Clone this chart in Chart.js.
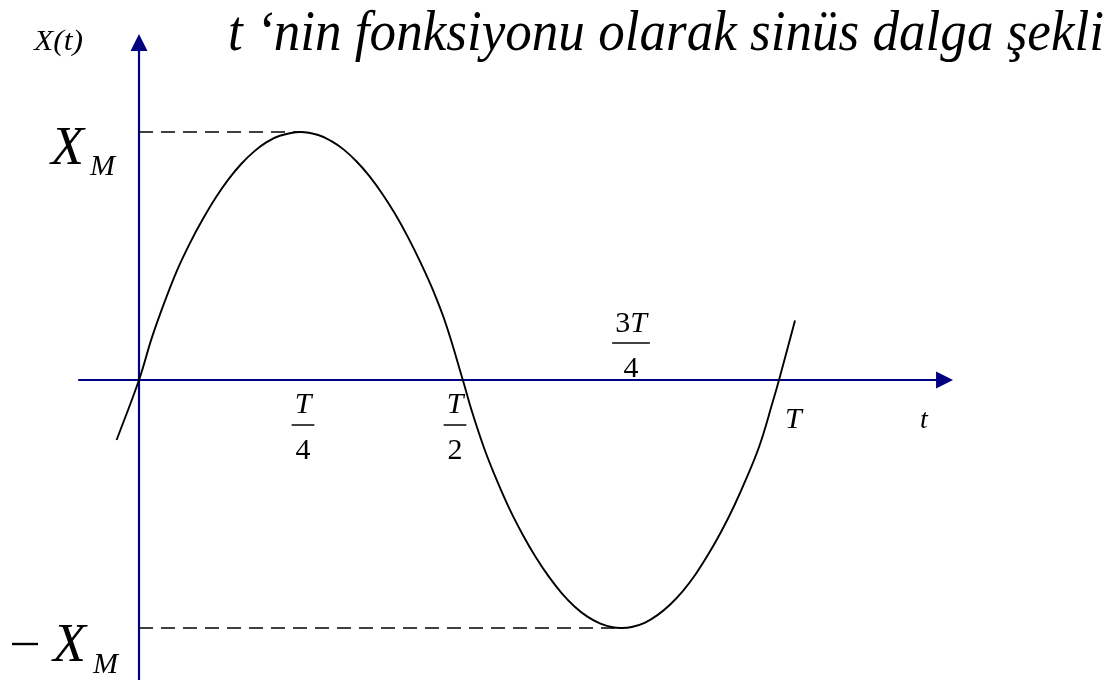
<!DOCTYPE html>
<html lang="tr">
<head>
<meta charset="utf-8">
<title>Sinüs dalga şekli</title>
<script src="https://cdn.jsdelivr.net/npm/chart.js@4/dist/chart.umd.min.js"></script>
<style>
  html, body { margin: 0; padding: 0; background: #ffffff; }
  #wrap { position: relative; width: 1112px; height: 685px; }
</style>
</head>
<body>
<div id="wrap"><canvas id="chart"></canvas></div>
<script>
// Time, in units of one period T
const tValues = [-0.035, 0, 0.02, 0.04, 0.06, 0.08, 0.10, 0.12, 0.14, 0.16, 0.18, 0.20, 0.22, 0.252,
                 0.28, 0.30, 0.32, 0.34, 0.36, 0.38, 0.40, 0.42, 0.44, 0.46, 0.48, 0.506,
                 0.52, 0.54, 0.56, 0.58, 0.60, 0.62, 0.64, 0.66, 0.68, 0.70, 0.72, 0.74, 0.754,
                 0.77, 0.79, 0.81, 0.83, 0.85, 0.87, 0.89, 0.91, 0.93, 0.95, 0.97, 0.99, 1.0, 1.025];
// Signal X(t), in units of the amplitude X_M
const xValues = [-0.242, 0, 0.17, 0.315, 0.445, 0.554, 0.65, 0.736, 0.81, 0.872, 0.922, 0.96, 0.985, 1.0,
                 0.988, 0.964, 0.929, 0.881, 0.822, 0.751, 0.67, 0.577, 0.473, 0.358, 0.222, 0,
                 -0.125, -0.28, -0.41, -0.526, -0.626, -0.715, -0.792, -0.858, -0.912, -0.953, -0.981, -0.997, -1.0,
                 -0.996, -0.979, -0.948, -0.905, -0.85, -0.782, -0.701, -0.61, -0.507, -0.391, -0.261, -0.09, 0, 0.24];

// Fraction tick labels on the time axis: [time, numerator, denominator]
const fractionTicks = [[0.25, 'T', '4'], [0.5, 'T', '2']];
const upperTick = [0.75, '3T', '4'];
const periodTick = [1.0, 'T'];

const titleText = 't \u2018nin fonksiyonu olarak sinüs dalga şekli';
const yAxisName = 'X(t)';
const xAxisName = 't';
const ampMain = 'X';
const ampSub = 'M';

const SERIF = '"Liberation Serif", "Times New Roman", serif';
const AXIS_BLUE = '#000080';

const wave = tValues.map((t, i) => ({ x: t, y: xValues[i] }));
const iMax = xValues.indexOf(Math.max(...xValues));
const iMin = xValues.indexOf(Math.min(...xValues));
const peakGuide = [{ x: 0, y: xValues[iMax] }, { x: tValues[iMax], y: xValues[iMax] }];
const troughGuide = [{ x: 0, y: xValues[iMin] }, { x: tValues[iMin], y: xValues[iMin] }];

// Extent of the drawn axes, in data units
const tAxisFrom = -0.095, tAxisTo = 1.272;
const xAxisFrom = -1.21, xAxisTo = 1.395;

function text(ctx, str, x, y, size, opts = {}) {
  ctx.save();
  ctx.font = (opts.italic === false ? '' : 'italic ') + size + 'px ' + SERIF;
  ctx.fillStyle = '#000';
  ctx.textBaseline = 'alphabetic';
  ctx.textAlign = opts.align || 'left';
  if (opts.width) {
    const w = ctx.measureText(str).width;
    ctx.translate(x, y);
    ctx.scale(opts.width / w, 1);
    ctx.fillText(str, 0, 0);
  } else {
    ctx.fillText(str, x, y);
  }
  ctx.restore();
}

function fraction(ctx, cx, num, den, numBase, barY, denBase, size) {
  // numerator: leading digits upright, letter italic
  const m = num.match(/^(\d*)(.*)$/);
  ctx.save();
  ctx.font = size + 'px ' + SERIF;
  const dw = ctx.measureText(m[1]).width;
  ctx.font = 'italic ' + size + 'px ' + SERIF;
  const lw = ctx.measureText(m[2]).width;
  ctx.restore();
  const total = dw + lw;
  const x0 = cx - total / 2;
  if (m[1]) text(ctx, m[1], x0, numBase, size, { italic: false });
  text(ctx, m[2], x0 + dw, numBase, size);
  const barW = Math.max(total, 16) + 6;
  ctx.save();
  ctx.strokeStyle = '#000';
  ctx.lineWidth = 1.5;
  ctx.beginPath();
  ctx.moveTo(cx - barW / 2, barY);
  ctx.lineTo(cx + barW / 2, barY);
  ctx.stroke();
  ctx.restore();
  text(ctx, den, cx, denBase, size, { italic: false, align: 'center' });
}

const axesPlugin = {
  id: 'axesPlugin',
  beforeDatasetsDraw(chart) {
    const ctx = chart.ctx;
    const xs = chart.scales.x, ys = chart.scales.y;
    const ox = xs.getPixelForValue(0), oy = ys.getPixelForValue(0);
    const left = xs.getPixelForValue(tAxisFrom), right = xs.getPixelForValue(tAxisTo);
    const top = ys.getPixelForValue(xAxisTo), bottom = ys.getPixelForValue(xAxisFrom);
    ctx.save();
    ctx.strokeStyle = AXIS_BLUE;
    ctx.fillStyle = AXIS_BLUE;
    ctx.lineWidth = 2.2;
    ctx.beginPath();
    ctx.moveTo(left, oy); ctx.lineTo(right - 10, oy);
    ctx.moveTo(ox, bottom); ctx.lineTo(ox, top + 10);
    ctx.stroke();
    // arrow heads
    ctx.beginPath();
    ctx.moveTo(right, oy); ctx.lineTo(right - 17, oy - 8.5); ctx.lineTo(right - 17, oy + 8.5);
    ctx.closePath(); ctx.fill();
    ctx.beginPath();
    ctx.moveTo(ox, top); ctx.lineTo(ox - 8.5, top + 17); ctx.lineTo(ox + 8.5, top + 17);
    ctx.closePath(); ctx.fill();
    ctx.restore();
  },
  afterDatasetsDraw(chart) {
    const ctx = chart.ctx;
    const xs = chart.scales.x, ys = chart.scales.y;
    const oy = ys.getPixelForValue(0);
    const pk = ys.getPixelForValue(xValues[iMax]);
    const tr = ys.getPixelForValue(xValues[iMin]);

    // title
    text(ctx, titleText, 228, 50, 58, { width: 876 });
    // axis names
    text(ctx, yAxisName, 34, 50, 29, { width: 49 });
    text(ctx, xAxisName, xs.getPixelForValue(tAxisTo) - 33, oy + 48, 28);

    // amplitude labels
    text(ctx, ampMain, 51, pk + 32, 54);
    text(ctx, ampSub, 90, pk + 43, 30);
    ctx.save();
    ctx.strokeStyle = '#000';
    ctx.lineWidth = 2.4;
    ctx.beginPath();
    ctx.moveTo(12, tr + 16); ctx.lineTo(38, tr + 16);
    ctx.stroke();
    ctx.restore();
    text(ctx, ampMain, 53, tr + 33, 54);
    text(ctx, ampSub, 93, tr + 45, 30);

    // time-axis labels
    fractionTicks.forEach(([t, n, d], k) => {
      const cx = xs.getPixelForValue(t) + (k === 0 ? 4 : -4);
      fraction(ctx, cx, n, d, oy + 33, oy + 45, oy + 79, 30);
    });
    fraction(ctx, xs.getPixelForValue(upperTick[0]) + 12, upperTick[1], upperTick[2],
             oy - 48, oy - 37, oy - 3, 30);
    text(ctx, periodTick[1], xs.getPixelForValue(periodTick[0]) + 6, oy + 48, 30);
  }
};

new Chart(document.getElementById('chart'), {
  type: 'line',
  data: {
    datasets: [
      {
        data: wave,
        borderColor: '#000',
        borderWidth: 1.9,
        pointRadius: 0,
        tension: 0.4,
        fill: false
      },
      {
        data: peakGuide,
        borderColor: '#000',
        borderWidth: 1.7,
        borderDash: [14, 8],
        pointRadius: 0,
        fill: false
      },
      {
        data: troughGuide,
        borderColor: '#000',
        borderWidth: 1.7,
        borderDash: [14, 8],
        pointRadius: 0,
        fill: false
      }
    ]
  },
  options: {
    responsive: true,
    maintainAspectRatio: false,
    animation: false,
    events: [],
    layout: { padding: 0 },
    plugins: { legend: { display: false }, tooltip: { enabled: false }, title: { display: false } },
    scales: {
      x: { type: 'linear', display: false, min: -0.2172, max: 1.5203 },
      y: { type: 'linear', display: false, min: -1.2298, max: 1.5323 }
    }
  },
  plugins: [axesPlugin]
});
</script>
</body>
</html>
